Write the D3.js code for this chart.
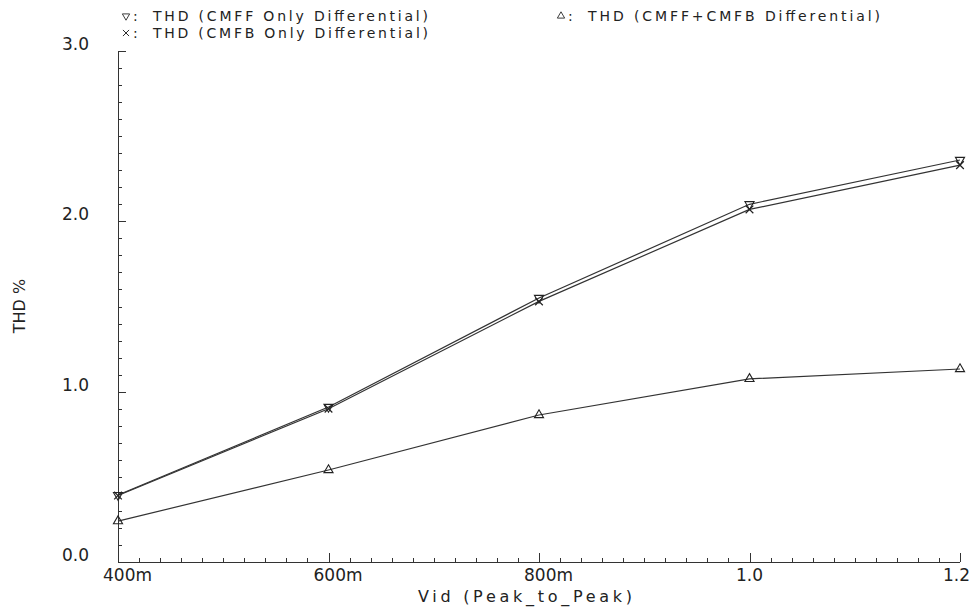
<!DOCTYPE html>
<html>
<head>
<meta charset="utf-8">
<script src="https://cdn.jsdelivr.net/npm/d3@7"></script>
<style>
  body { margin: 0; background: #fff; }
  text { font-family: "DejaVu Sans", sans-serif; fill: #222; }
</style>
</head>
<body>
<div class="chart"></div>
<script>
let width = 974;
let height = 607;

// data
let vid = [0.4, 0.6, 0.8, 1.0, 1.2];
let cmffOnly = [0.393, 0.91, 1.55, 2.10, 2.36];
let cmfbOnly = [0.39, 0.90, 1.53, 2.07, 2.33];
let cmffCmfb = [0.24, 0.54, 0.863, 1.075, 1.133];
let xTickVals = [0.4, 0.6, 0.8, 1.0, 1.2];
let xTickLabels = ['400m', '600m', '800m', '1.0', '1.2'];
let yTickVals = [0, 1, 2, 3];
let yTickLabels = ['0.0', '1.0', '2.0', '3.0'];

let svg = d3.select('.chart')
            .append('svg')
            .attr('width', width)
            .attr('height', height);

let xScale = d3.scaleLinear().domain([0.4, 1.2]).range([118, 960]);
let yScale = d3.scaleLinear().domain([0, 3]).range([562, 51]);

// axes: lines + inward ticks
let axisColor = '#333';
svg.append('line')
   .attr('x1', xScale(0.4)).attr('x2', xScale(1.2))
   .attr('y1', yScale(0)).attr('y2', yScale(0))
   .attr('stroke', axisColor).attr('shape-rendering', 'crispEdges');
svg.append('line')
   .attr('x1', xScale(0.4)).attr('x2', xScale(0.4))
   .attr('y1', yScale(0)).attr('y2', yScale(3))
   .attr('stroke', axisColor).attr('shape-rendering', 'crispEdges');

let xMinor = d3.range(0, 41).map(i => 0.4 + i * 0.02);
svg.append('g').selectAll('line')
   .data(xMinor)
   .enter()
   .append('line')
   .attr('x1', d => Math.round(xScale(d)) + 0.5)
   .attr('x2', d => Math.round(xScale(d)) + 0.5)
   .attr('y1', yScale(0))
   .attr('y2', (d, i) => yScale(0) - (i % 10 == 0 ? 9 : 4))
   .attr('stroke', axisColor);

let yMinor = d3.range(0, 31).map(i => i * 0.1);
svg.append('g').selectAll('line')
   .data(yMinor)
   .enter()
   .append('line')
   .attr('y1', d => Math.round(yScale(d)) + 0.5)
   .attr('y2', d => Math.round(yScale(d)) + 0.5)
   .attr('x1', xScale(0.4))
   .attr('x2', (d, i) => xScale(0.4) + (i % 10 == 0 ? 8 : 4))
   .attr('stroke', axisColor);

// tick labels
svg.append('g').selectAll('text')
   .data(xTickVals)
   .enter()
   .append('text')
   .attr('x', (d, i) => {
     if (i == xTickVals.length - 1) return xScale(d) + 10;
     if (xTickLabels[i].indexOf('m') > 0) return xScale(d) - 15;
     return xScale(d);
   })
   .attr('y', 581)
   .style('font-size', '17px')
   .style('text-anchor', (d, i) => {
     if (i == xTickVals.length - 1) return 'end';
     if (xTickLabels[i].indexOf('m') > 0) return 'start';
     return 'middle';
   })
   .text((d, i) => xTickLabels[i]);

svg.append('g').selectAll('text')
   .data(yTickVals)
   .enter()
   .append('text')
   .attr('x', 62)
   .attr('y', d => yScale(d) - 1)
   .style('font-size', '17px')
   .text((d, i) => yTickLabels[i]);

// axis titles
svg.append('text')
   .attr('x', 418)
   .attr('y', 602)
   .attr('textLength', 214)
   .attr('lengthAdjust', 'spacing')
   .style('font-size', '16px')
   .text('Vid (Peak_to_Peak)');
svg.append('text')
   .attr('transform', 'translate(25,306) rotate(-90)')
   .style('text-anchor', 'middle')
   .style('font-size', '16px')
   .text('THD %');

// series
let series = [
  { name: 'THD (CMFF Only Differential)', values: cmffOnly, marker: 'down' },
  { name: 'THD (CMFB Only Differential)', values: cmfbOnly, marker: 'cross' },
  { name: 'THD (CMFF+CMFB Differential)', values: cmffCmfb, marker: 'up' }
];

let line = d3.line()
             .x((d, i) => xScale(vid[i]))
             .y(d => yScale(d));

function marker(g, type) {
  if (type == 'cross') {
    g.append('path')
     .attr('d', d3.symbol(d3.symbolTimes, 40)())
     .attr('fill', 'none').attr('stroke', '#222').attr('stroke-width', 1.2);
  } else {
    g.append('path')
     .attr('d', d3.symbol(d3.symbolTriangle, 36)())
     .attr('transform', type == 'down' ? 'rotate(180)' : null)
     .attr('fill', 'none').attr('stroke', '#222').attr('stroke-width', 1.1);
  }
}

series.forEach(s => {
  svg.append('path')
     .datum(s.values)
     .attr('d', line)
     .attr('fill', 'none')
     .attr('stroke', '#333')
     .attr('stroke-width', 1.2);
  s.values.forEach((v, i) => {
    let g = svg.append('g')
               .attr('transform', 'translate(' + xScale(vid[i]) + ',' + yScale(v) + ')');
    marker(g, s.marker);
  });
});

// legend
let legendPos = [[126, 21], [126, 38], [561, 21]];
series.forEach((s, i) => {
  let g = svg.append('g')
             .attr('transform', 'translate(' + legendPos[i][0] + ',' + legendPos[i][1] + ')');
  let mg = g.append('g').attr('transform', 'translate(0,-5) scale(0.8)');
  marker(mg, s.marker);
  g.append('text')
   .attr('x', 7)
   .attr('y', 0)
   .style('font-size', '14px')
   .text(':');
  g.append('text')
   .attr('x', 27)
   .attr('y', 0)
   .attr('textLength', i == 2 ? 292 : 275)
   .attr('lengthAdjust', 'spacing')
   .style('font-size', '14px')
   .text(s.name);
});
</script>
</body>
</html>
